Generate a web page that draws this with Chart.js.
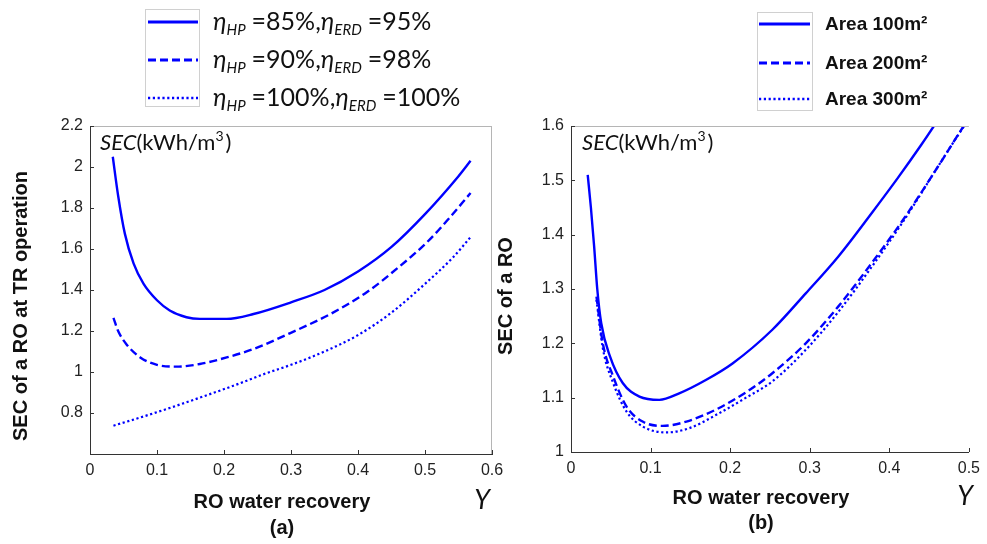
<!DOCTYPE html>
<html>
<head>
<meta charset="utf-8">
<script src="https://cdn.jsdelivr.net/npm/chart.js@4/dist/chart.umd.min.js"></script>
<style>
  html, body { margin: 0; padding: 0; background: #fff; }
  #wrap { position: relative; width: 987px; height: 544px; overflow: hidden; }
  #chartA { position: absolute; left: 0; top: 0; }
  #chartB { position: absolute; left: 495px; top: 0; }
</style>
</head>
<body>
<div id="wrap">
  <canvas id="chartA" width="540" height="544"></canvas>
  <canvas id="chartB" width="492" height="544"></canvas>
</div>
<script>
/* (a) SEC at TR operation vs recovery, three efficiency cases */
var recA1 = [0.034, 0.042, 0.052, 0.065, 0.080, 0.100, 0.119, 0.144, 0.164, 0.204, 0.244, 0.300, 0.350, 0.400, 0.450, 0.500, 0.550, 0.568];
var secA1 = [2.05, 1.86, 1.675, 1.53, 1.43, 1.35, 1.30, 1.267, 1.259, 1.259, 1.283, 1.34, 1.40, 1.49, 1.61, 1.77, 1.955, 2.03];
var recA2 = [0.035, 0.042, 0.054, 0.075, 0.100, 0.129, 0.164, 0.204, 0.244, 0.299, 0.360, 0.413, 0.458, 0.502, 0.532, 0.568];
var secA2 = [1.264, 1.20, 1.137, 1.071, 1.035, 1.026, 1.039, 1.071, 1.112, 1.19, 1.285, 1.389, 1.504, 1.630, 1.735, 1.873];
var recA3 = [0.035, 0.075, 0.124, 0.164, 0.214, 0.264, 0.300, 0.350, 0.400, 0.450, 0.500, 0.542, 0.568];
var secA3 = [0.738, 0.778, 0.830, 0.875, 0.933, 0.995, 1.035, 1.10, 1.18, 1.29, 1.43, 1.56, 1.658];

/* (b) SEC vs recovery for three membrane areas */
var recB1 = [0.021, 0.025, 0.029, 0.033, 0.038, 0.049, 0.065, 0.086, 0.111, 0.136, 0.170, 0.203, 0.253, 0.295, 0.336, 0.378, 0.411, 0.440, 0.457, 0.465];
var secB1 = [1.51, 1.45, 1.38, 1.30, 1.237, 1.176, 1.127, 1.102, 1.096, 1.108, 1.133, 1.163, 1.225, 1.292, 1.36, 1.44, 1.505, 1.565, 1.602, 1.62];
var recB2 = [0.032, 0.040, 0.053, 0.070, 0.090, 0.115, 0.145, 0.182, 0.220, 0.253, 0.295, 0.336, 0.378, 0.420, 0.461, 0.493, 0.500];
var secB2 = [1.286, 1.20, 1.139, 1.083, 1.056, 1.048, 1.056, 1.078, 1.11, 1.145, 1.20, 1.268, 1.348, 1.433, 1.525, 1.599, 1.615];
var recB3 = [0.032, 0.040, 0.053, 0.070, 0.090, 0.120, 0.149, 0.182, 0.220, 0.253, 0.295, 0.336, 0.378, 0.420, 0.461, 0.495, 0.500];
var secB3 = [1.28, 1.191, 1.127, 1.074, 1.047, 1.036, 1.044, 1.068, 1.10, 1.13, 1.188, 1.258, 1.341, 1.43, 1.525, 1.602, 1.612];

var xTicksA = [0, 0.1, 0.2, 0.3, 0.4, 0.5, 0.6];
var yTicksA = [0.6, 0.8, 1.0, 1.2, 1.4, 1.6, 1.8, 2.0, 2.2];
var xTicksB = [0, 0.1, 0.2, 0.3, 0.4, 0.5];
var yTicksB = [1.0, 1.1, 1.2, 1.3, 1.4, 1.5, 1.6];

var BLUE = '#0000ff';
var SANS = '"Liberation Sans", Arial, sans-serif';
var CAL = 'Lato, "Noto Sans", sans-serif';
var DASHES = [[], [8, 4], [2.2, 2.6]];
var WIDTHS = [2.4, 2.4, 2.2];

function pts(xs, ys) {
  return xs.map(function (x, i) { return { x: x, y: ys[i] }; });
}

function series(xs, ys, i) {
  return {
    data: pts(xs, ys),
    borderColor: BLUE,
    borderWidth: WIDTHS[i],
    borderDash: DASHES[i],
    pointRadius: 0,
    fill: false,
    cubicInterpolationMode: 'monotone'
  };
}

function fmt(v) { return String(Math.round(v * 10) / 10); }

/* draw a row of text segments with individual fonts / offsets */
function rich(ctx, x, y, segs) {
  ctx.textBaseline = 'alphabetic';
  ctx.textAlign = 'left';
  segs.forEach(function (s) {
    ctx.font = s.f;
    ctx.fillText(s.t, x, y + (s.dy || 0));
    x += ctx.measureText(s.t).width + (s.gap || 0);
  });
}

function sample(ctx, x1, x2, y, i) {
  ctx.save();
  ctx.strokeStyle = BLUE;
  ctx.lineWidth = WIDTHS[i] + 0.4;
  ctx.setLineDash(DASHES[i]);
  ctx.beginPath(); ctx.moveTo(x1, y); ctx.lineTo(x2, y); ctx.stroke();
  ctx.restore();
}

function secLabel(ctx, x, y) {
  ctx.fillStyle = '#111';
  rich(ctx, x, y, [
    { t: 'SEC', f: 'italic 22px ' + CAL },
    { t: '(kWh/m', f: '22px ' + CAL },
    { t: '3', f: '14px ' + CAL, dy: -9, gap: 2 },
    { t: ')', f: '22px ' + CAL }
  ]);
}

/* frame, inward tick marks and all the surrounding text */
function decor(o) {
  return {
    id: 'decor',
    afterDraw: function (chart) {
      var ctx = chart.ctx, a = chart.chartArea;
      var sx = chart.scales.x, sy = chart.scales.y;
      ctx.save();
      ctx.strokeStyle = '#b5b5b5';
      ctx.lineWidth = 1;
      ctx.beginPath();
      ctx.moveTo(a.left, a.top + 0.5); ctx.lineTo(a.right, a.top + 0.5);
      if (o.rightBorder) { ctx.moveTo(a.right - 0.5, a.top); ctx.lineTo(a.right - 0.5, a.bottom); }
      ctx.stroke();

      ctx.strokeStyle = '#333';
      ctx.beginPath();
      o.xt.forEach(function (v) {
        var px = Math.round(sx.getPixelForValue(v)) + 0.5;
        ctx.moveTo(px, a.bottom); ctx.lineTo(px, a.bottom - 4);
      });
      o.yt.forEach(function (v) {
        var py = Math.round(sy.getPixelForValue(v)) + 0.5;
        ctx.moveTo(a.left, py); ctx.lineTo(a.left + 4, py);
      });
      ctx.stroke();

      ctx.fillStyle = '#111';
      ctx.font = 'bold 20px ' + SANS;
      ctx.textAlign = 'center';
      ctx.textBaseline = 'middle';
      ctx.fillText('RO water recovery', o.titleX, o.titleY);
      ctx.fillText(o.tag, o.titleX, o.tagY);
      ctx.save();
      ctx.translate(o.yTitleX, o.yTitleY);
      ctx.rotate(-Math.PI / 2);
      ctx.fillText(o.yTitle, 0, 0);
      ctx.restore();

      ctx.font = 'italic 27px ' + CAL;
      ctx.fillText('Y', o.yX, o.titleY - 2);

      secLabel(ctx, a.left + o.secDx, 150);
      o.legend(ctx);
      ctx.restore();
    }
  };
}

function options(xMin, xMax, yMin, yMax, yStep, yWidth, xHeight, padRight) {
  return {
    responsive: false,
    animation: false,
    layout: { padding: { left: 0, top: 126, right: padRight, bottom: 0 } },
    plugins: { legend: { display: false }, tooltip: { enabled: false } },
    scales: {
      x: {
        type: 'linear', min: xMin, max: xMax,
        grid: { display: false, drawTicks: false },
        border: { color: '#333', width: 1 },
        ticks: { stepSize: 0.1, padding: 7, color: '#222', font: { family: SANS, size: 16 }, callback: fmt, maxRotation: 0 },
        afterFit: function (s) { s.height = xHeight; }
      },
      y: {
        type: 'linear', min: yMin, max: yMax,
        grid: { display: false, drawTicks: false },
        border: { color: '#333', width: 1 },
        ticks: {
          stepSize: yStep, padding: 7, color: '#222', font: { family: SANS, size: 16 },
          callback: function (v) { return Math.abs(v - 0.6) < 1e-6 ? '' : fmt(v); }
        },
        afterFit: function (s) { s.width = yWidth; }
      }
    }
  };
}

var etaRows = [['85%', '95%'], ['90%', '98%'], ['100%', '100%']];

new Chart(document.getElementById('chartA'), {
  type: 'line',
  data: { datasets: [series(recA1, secA1, 0), series(recA2, secA2, 1), series(recA3, secA3, 2)] },
  options: options(0, 0.6, 0.6, 2.2, 0.2, 90, 90, 48),
  plugins: [decor({
    xt: xTicksA, yt: yTicksA, rightBorder: true,
    titleX: 282, titleY: 502, tag: '(a)', tagY: 528,
    yTitle: 'SEC of a RO at TR operation', yTitleX: 21, yTitleY: 306,
    yX: 482, secDx: 10,
    legend: function (ctx) {
      ctx.strokeStyle = '#d0d0d0';
      ctx.lineWidth = 1;
      ctx.strokeRect(145.5, 9.5, 54, 97);
      [22, 60, 98].forEach(function (y, i) {
        sample(ctx, 148, 198, y, i);
        ctx.fillStyle = '#111';
        rich(ctx, 213, y + 8, [
          { t: '\u03b7', f: 'italic 25px ' + CAL },
          { t: 'HP', f: 'italic 15px ' + CAL, dy: 5, gap: 6 },
          { t: '=' + etaRows[i][0] + ',', f: '25px ' + CAL },
          { t: '\u03b7', f: 'italic 25px ' + CAL },
          { t: 'ERD', f: 'italic 15px ' + CAL, dy: 5, gap: 6 },
          { t: '=' + etaRows[i][1], f: '25px ' + CAL }
        ]);
      });
    }
  })]
});

var areaNames = ['Area 100m\u00b2', 'Area 200m\u00b2', 'Area 300m\u00b2'];

new Chart(document.getElementById('chartB'), {
  type: 'line',
  data: { datasets: [series(recB1, secB1, 0), series(recB2, secB2, 1), series(recB3, secB3, 2)] },
  options: options(0, 0.5, 1.0, 1.6, 0.1, 76, 92, 16),
  plugins: [decor({
    xt: xTicksB, yt: yTicksB, rightBorder: false,
    titleX: 266, titleY: 498, tag: '(b)', tagY: 523,
    yTitle: 'SEC of a RO', yTitleX: 11, yTitleY: 296,
    yX: 470, secDx: 11,
    legend: function (ctx) {
      ctx.strokeStyle = '#d0d0d0';
      ctx.lineWidth = 1;
      ctx.strokeRect(262.5, 12.5, 55, 98);
      [24, 63, 99].forEach(function (y, i) {
        sample(ctx, 264, 315, y, i);
        ctx.fillStyle = '#111';
        ctx.font = 'bold 19px ' + SANS;
        ctx.textAlign = 'left';
        ctx.textBaseline = 'middle';
        ctx.fillText(areaNames[i], 330, y + 1);
      });
    }
  })]
});
</script>
</body>
</html>
